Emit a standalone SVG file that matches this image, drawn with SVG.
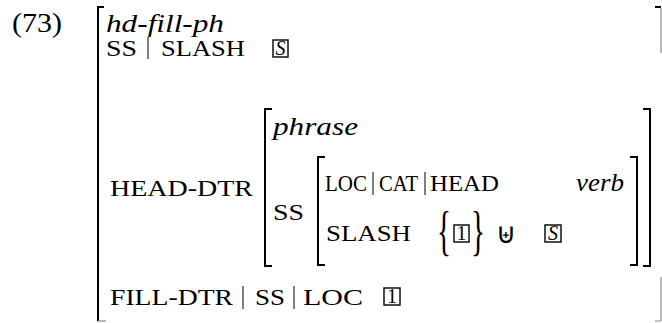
<svg xmlns="http://www.w3.org/2000/svg" width="662" height="323" viewBox="0 0 662 323">
<style>
.t{font-family:"Liberation Serif","Times New Roman",serif;font-size:24px;fill:#000}
.i{font-style:italic;font-size:26px}
.br{fill:none;stroke:#000;stroke-width:2}
.bg{fill:none;stroke:#888;stroke-width:1.2}
.sep{stroke:#000;stroke-width:1}
.bx{fill:none;stroke:#000;stroke-width:1.4}
.bt{font-size:20px}
.u{font-family:"DejaVu Sans",sans-serif;font-size:28px;fill:#000}
</style>
<rect width="662" height="323" fill="#fff"/>
<text class="t" x="12" y="32" textLength="50" lengthAdjust="spacingAndGlyphs" style="font-size:27px">(73)</text>
<g id="outer">
  <path class="br" d="M104,7 H98 V321"/>
  <path class="bg" d="M98,321 H106"/>
  <path class="br" d="M655,7 H661"/>
  <path class="bg" d="M661,8 V53 M661,277 V321 M655,321 H661"/>
  <text class="t i" x="106" y="32" textLength="118" lengthAdjust="spacingAndGlyphs">hd-fill-ph</text>
  <text class="t" x="106" y="56" textLength="31" lengthAdjust="spacingAndGlyphs">SS</text>
  <line class="sep" x1="148" y1="37" x2="148" y2="59"/>
  <text class="t" x="161" y="56" textLength="84" lengthAdjust="spacingAndGlyphs">SLASH</text>
  <rect class="bx" x="273" y="40" width="15" height="17"/>
  <text class="t i bt" x="280.5" y="54.5" text-anchor="middle">S</text>
</g>
<g id="head-dtr">
  <text class="t" x="110" y="196" textLength="143" lengthAdjust="spacingAndGlyphs">HEAD-DTR</text>
  <path class="br" d="M272,109 H265 V266 H272"/>
  <path class="br" d="M643,109 H650 V266 H643"/>
  <text class="t i" x="273" y="135" textLength="85" lengthAdjust="spacingAndGlyphs">phrase</text>
  <text class="t" x="273" y="220" textLength="31" lengthAdjust="spacingAndGlyphs">SS</text>
  <path class="br" d="M325,157 H318 V265 H325"/>
  <path class="br" d="M630,157 H637 V265 H630"/>
  <text class="t" x="325" y="191" textLength="42" lengthAdjust="spacingAndGlyphs">LOC</text>
  <line class="sep" x1="373" y1="172" x2="373" y2="195"/>
  <text class="t" x="379" y="191" textLength="39" lengthAdjust="spacingAndGlyphs">CAT</text>
  <line class="sep" x1="425" y1="172" x2="425" y2="195"/>
  <text class="t" x="430" y="191" textLength="69" lengthAdjust="spacingAndGlyphs">HEAD</text>
  <text class="t i" x="576" y="191" textLength="48" lengthAdjust="spacingAndGlyphs">verb</text>
  <text class="t" x="326" y="241" textLength="85" lengthAdjust="spacingAndGlyphs">SLASH</text>
  <text class="t" x="437" y="0" transform="translate(0,249) scale(1,1.5)" textLength="14" lengthAdjust="spacingAndGlyphs" style="font-size:36px">{</text>
  <rect class="bx" x="454" y="225" width="15" height="17"/>
  <text class="t bt" x="461.5" y="240" text-anchor="middle">1</text>
  <text class="t" x="471" y="0" transform="translate(0,249) scale(1,1.5)" textLength="14" lengthAdjust="spacingAndGlyphs" style="font-size:36px">}</text>
  <text class="u" x="506" y="243" text-anchor="middle">⊎</text>
  <rect class="bx" x="545" y="225" width="16" height="17"/>
  <text class="t i bt" x="553" y="240" text-anchor="middle">S</text>
</g>
<g id="fill-dtr">
  <text class="t" x="110" y="305" textLength="123" lengthAdjust="spacingAndGlyphs">FILL-DTR</text>
  <line class="sep" x1="243" y1="286" x2="243" y2="309"/>
  <text class="t" x="255" y="305" textLength="30" lengthAdjust="spacingAndGlyphs">SS</text>
  <line class="sep" x1="294" y1="286" x2="294" y2="309"/>
  <text class="t" x="303" y="305" textLength="60" lengthAdjust="spacingAndGlyphs">LOC</text>
  <rect class="bx" x="384" y="288" width="16" height="17"/>
  <text class="t bt" x="392" y="303" text-anchor="middle">1</text>
</g>
</svg>
